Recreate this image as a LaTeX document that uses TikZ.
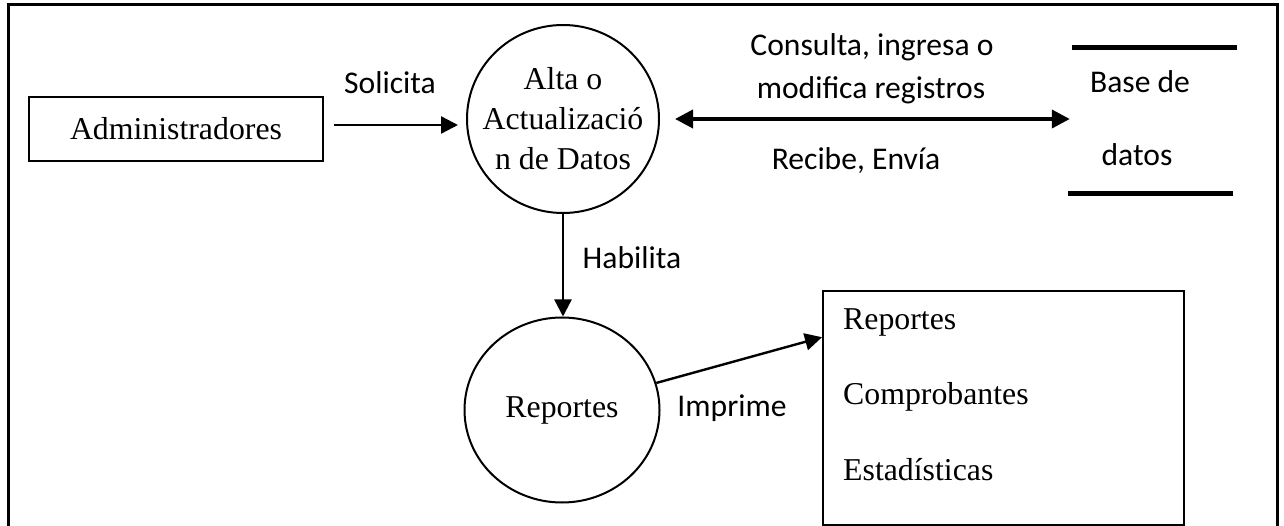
\documentclass[tikz,border=0pt]{standalone}
\usepackage{fontspec}
\setmainfont{Liberation Serif}
\newfontfamily\lab{Carlito}
\usetikzlibrary{arrows.meta,shapes.geometric,calc}
\begin{document}
\begin{tikzpicture}[x=1pt,y=-1pt,
  serif/.style={font=\fontsize{31.8}{40}\selectfont},
  lbl/.style={font=\lab\fontsize{31.6}{40}\selectfont, inner sep=0},
  proc/.style={draw, line width=2, ellipse, inner sep=0},
  box/.style={draw, line width=2, rectangle, inner sep=0},
  flow/.style={-{Triangle[length=17,width=17]}, line width=2.4},
  store/.style={line width=5}
]
\useasboundingbox (0,0) rectangle (1284,526);
% outer frame (bottom side lies below the picture)
\coordinate (f1) at (8,530);
\coordinate (f2) at (8,5);
\coordinate (f3) at (1277,5);
\coordinate (f4) at (1277,530);
\draw[line width=3] (f1) -- (f2) -- (f3) -- (f4);

% nodes
\node[box, serif, minimum width=294, minimum height=64] (adm) at (176,129) {Administradores};
\node[proc, minimum width=192, minimum height=188] (alta) at (563,119) {};
\node[serif, align=center, inner sep=0] (altaT) at (alta.center) {Alta o\\Actualizació\\n de Datos};
\node[proc, minimum width=195, minimum height=185] (rep) at (562,410) {};
\node[serif, inner sep=0] (repT) at (rep.center) {Reportes};
\node[box, minimum width=361, minimum height=234] (out) at (1003.5,408) {};
\node[serif, anchor=west, inner sep=0] (o1) at (843,322) {Reportes};
\node[serif, anchor=west, inner sep=0] (o2) at (843,397) {Comprobantes};
\node[serif, anchor=west, inner sep=0] (o3) at (843,470) {Estadísticas};

% data store
\node[inner sep=0, minimum width=165, minimum height=145] (db) at (1152.5,120.5) {};
\draw[store] ($(db.north west)+(2,0)$) -- ($(db.north east)+(2,0)$);
\draw[store] ($(db.south west)+(-2,0)$) -- ($(db.south east)+(-2,0)$);
\node[lbl] (db1) at (1140,82) {Base de};
\node[lbl] (db2) at (1137,155) {datos};

% flows
\coordinate (s1) at ($(adm.east)+(10,-4)$);
\draw[flow, shorten >=8] (s1) -- (s1 -| alta.west);
\draw[{Triangle[length=18,width=18]}-{Triangle[length=18,width=18]}, line width=3.8, shorten <=15]
  (alta.east) -- (alta.east -| db.west);
\draw[flow] (alta.south) -- (alta.south |- rep.north);
\draw[flow] (rep.16) -- ($(out.north west)!0.2!(out.south west)$);

% labels
\node[lbl] (l1) at (390,83) {Solicita};
\node[lbl] (l2) at (872,47) {Consulta, ingresa o};
\node[lbl] (l3) at (871,90) {modifica registros};
\node[lbl] (l4) at (856,161) {Recibe, Envía};
\node[lbl] (l5) at (632,258) {Habilita};
\node[lbl] (l6) at (732,408) {Imprime};
\end{tikzpicture}
\end{document}
